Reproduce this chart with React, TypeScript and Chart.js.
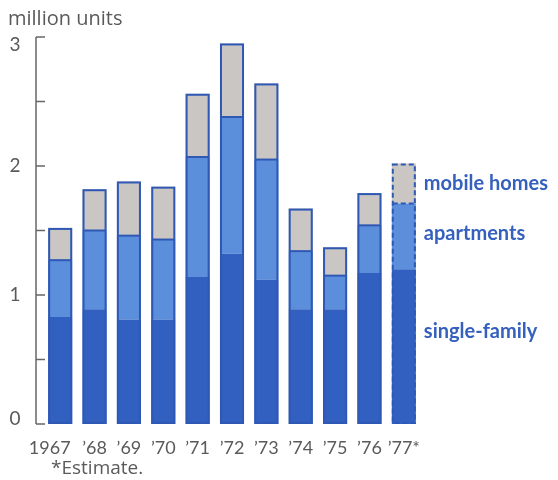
import React, { useEffect, useRef } from "react";
import { Chart, registerables } from "chart.js";

Chart.register(...registerables);

const categories = ["1967", "\u201968", "\u201969", "\u201970", "\u201971", "\u201972", "\u201973", "\u201974", "\u201975", "\u201976", "\u201977*"];
const singleFamily = [0.83, 0.89, 0.81, 0.81, 1.14, 1.32, 1.12, 0.89, 0.89, 1.17, 1.2];
const apartments = [0.44, 0.61, 0.65, 0.62, 0.93, 1.06, 0.93, 0.45, 0.26, 0.37, 0.51];
const mobileHomes = [0.25, 0.32, 0.42, 0.41, 0.49, 0.57, 0.59, 0.33, 0.22, 0.25, 0.31];
const yTicks = [0, 0.5, 1, 1.5, 2, 2.5, 3];
const yTickLabels = ["0", "", "1", "", "2", "", "3"];
const seriesNames = ["single-family", "apartments", "mobile homes"];
const estimateIndex = 10;

const FONT = "Lato, 'Open Sans', sans-serif";
const WIDE_FONT = "'Open Sans', Lato, sans-serif";
const GREY_TEXT = "#5a5a5a";
const OUTLINE = "#2f58b5";
const LABEL_BLUE = "#3560bd";

const overlayPlugin = {
  id: "overlay",
  afterDatasetsDraw(chart: any) {
    const ctx = chart.ctx;
    const y = chart.scales.y;
    const m0 = chart.getDatasetMeta(0);
    const m1 = chart.getDatasetMeta(1);
    const m2 = chart.getDatasetMeta(2);
    ctx.save();
    // bar outlines
    categories.forEach((_, i) => {
      const top = m2.data[i];
      const mid = m1.data[i];
      const bot = m0.data[i];
      const w = top.width;
      const x0 = top.x - w / 2;
      const yTop = top.y;
      const yBase = bot.base;
      ctx.strokeStyle = OUTLINE;
      ctx.lineWidth = 2;
      if (i === estimateIndex) ctx.setLineDash([5, 3]);
      else ctx.setLineDash([]);
      ctx.strokeRect(x0 + 1, yTop + 1, w - 2, yBase - yTop - 2);
      ctx.beginPath();
      ctx.moveTo(x0 + 1, mid.y);
      ctx.lineTo(x0 + w - 1, mid.y);
      ctx.stroke();
    });
    ctx.setLineDash([]);
    // y axis bracket
    const axX = 36;
    ctx.strokeStyle = "#666";
    ctx.lineWidth = 1.5;
    ctx.beginPath();
    ctx.moveTo(axX, y.getPixelForValue(3));
    ctx.lineTo(axX, y.getPixelForValue(0));
    ctx.stroke();
    yTicks.forEach((v, k) => {
      const py = y.getPixelForValue(v);
      ctx.beginPath();
      ctx.moveTo(axX, py);
      ctx.lineTo(axX + 9, py);
      ctx.stroke();
      const lab = yTickLabels[k];
      if (lab) {
        ctx.fillStyle = GREY_TEXT;
        ctx.font = `19px ${FONT}`;
        ctx.textAlign = "center";
        ctx.textBaseline = "middle";
        let off = 0;
        if (v === 3) off = 8;
        if (v === 0) off = -5;
        ctx.fillText(lab, 15, py + off);
      }
    });
    // title
    ctx.fillStyle = GREY_TEXT;
    ctx.font = `20px ${WIDE_FONT}`;
    ctx.textAlign = "left";
    ctx.textBaseline = "middle";
    ctx.fillText("million units", 8, 19);
    // footnote
    ctx.font = `19px ${WIDE_FONT}`;
    ctx.fillText("*Estimate.", 51, 469);
    // series labels beside the estimate bar
    const e = estimateIndex;
    const labelX = m2.data[e].x + m2.data[e].width / 2 + 8;
    const yMobile = (m2.data[e].y + m2.data[e].base) / 2;
    const yApt = (m1.data[e].y + m1.data[e].base) / 2 - 3;
    const ySingle = y.getPixelForValue(singleFamily[e] * 0.6);
    ctx.fillStyle = LABEL_BLUE;
    ctx.font = `bold 20px ${FONT}`;
    ctx.fillText(seriesNames[2], labelX, yMobile);
    ctx.fillText(seriesNames[1], labelX, yApt);
    ctx.fillText(seriesNames[0], labelX, ySingle);
    ctx.restore();
  },
};

export default function App() {
  const ref = useRef<HTMLCanvasElement | null>(null);
  useEffect(() => {
    if (!ref.current) return;
    const chart = new Chart(ref.current, {
      type: "bar",
      data: {
        labels: categories,
        datasets: [
          { label: seriesNames[0], data: singleFamily, backgroundColor: "#3160c1", borderWidth: 0 },
          { label: seriesNames[1], data: apartments, backgroundColor: "#5b8fdc", borderWidth: 0 },
          { label: seriesNames[2], data: mobileHomes, backgroundColor: "#c9c6c3", borderWidth: 0 },
        ],
      },
      options: {
        responsive: false,
        animation: false,
        layout: { padding: { left: 43, right: 137, top: 37, bottom: 26 } },
        plugins: { legend: { display: false }, tooltip: { enabled: false }, title: { display: false } },
        datasets: { bar: { barPercentage: 0.7, categoryPercentage: 1 } },
        scales: {
          x: {
            stacked: true,
            grid: { display: false, drawTicks: false },
            border: { display: false },
            ticks: {
              color: GREY_TEXT,
              font: { family: FONT, size: 18 },
              padding: 13,
              maxRotation: 0,
              autoSkip: false,
              callback: (_v: any, i: number) => (i === 0 ? categories[i] + "\u2007\u2007" : categories[i]),
            },
            afterFit: (s: any) => {
              s.height = 30;
            },
          },
          y: { stacked: true, display: false, min: 0, max: 3 },
        },
      },
      plugins: [overlayPlugin],
    });
    return () => chart.destroy();
  }, []);
  return (
    <div style={{ position: "fixed", left: 0, top: 0, width: 558, height: 480, background: "#fff" }}>
      <canvas ref={ref} width={558} height={480} />
    </div>
  );
}
